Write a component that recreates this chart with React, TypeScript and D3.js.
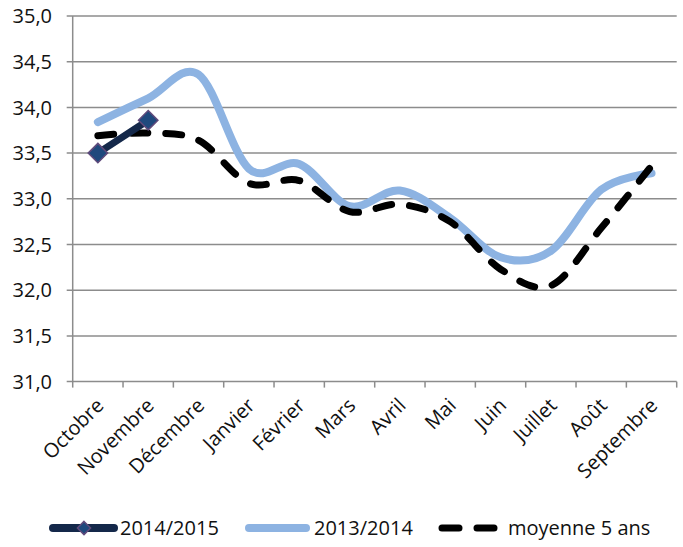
import React, { useEffect, useRef } from "react";
import * as d3 from "d3";

// categories (mois de campagne)
const months = [
  "Octobre", "Novembre", "Décembre", "Janvier", "Février", "Mars",
  "Avril", "Mai", "Juin", "Juillet", "Août", "Septembre",
];

// series values
const serie2014: number[] = [33.5, 33.86];
const serie2013: number[] = [33.84, 34.1, 34.36, 33.33, 33.38, 32.92, 33.09, 32.79, 32.36, 32.43, 33.1, 33.28];
const moyenne5: number[] = [33.69, 33.72, 33.64, 33.17, 33.2, 32.86, 32.94, 32.75, 32.23, 32.05, 32.68, 33.36];

const yTicks = [31, 31.5, 32, 32.5, 33, 33.5, 34, 34.5, 35];

const legendLabels = ["2014/2015", "2013/2014", "moyenne 5 ans"];

const W = 683;
const H = 547;
const FONT = "'Open Sans', 'Noto Sans', sans-serif";

const App: React.FC = () => {
  const svgRef = useRef<SVGSVGElement>(null);

  useEffect(() => {
    if (!svgRef.current) return;
    const svg = d3.select(svgRef.current);
    svg.selectAll("*").remove();

    const left = 72.7, right = 676.7, top = 16, bottom = 381.6;

    const x = d3.scaleBand<string>().domain(months).range([left, right]);
    const y = d3.scaleLinear().domain([31, 35]).range([bottom, top]);
    const cx = (i: number) => (x(months[i]) as number) + x.bandwidth() / 2;

    // gridlines
    svg.append("g")
      .selectAll("line")
      .data(yTicks)
      .enter().append("line")
      .attr("x1", left - 6)
      .attr("x2", right)
      .attr("y1", d => y(d))
      .attr("y2", d => y(d))
      .attr("stroke", "#8c8c8c")
      .attr("stroke-width", 1.5);

    // y axis line
    svg.append("line")
      .attr("x1", left).attr("x2", left)
      .attr("y1", top).attr("y2", bottom)
      .attr("stroke", "#8c8c8c").attr("stroke-width", 1.5);

    // x ticks
    svg.append("g")
      .selectAll("line")
      .data(d3.range(months.length + 1))
      .enter().append("line")
      .attr("x1", i => left + i * x.step())
      .attr("x2", i => left + i * x.step())
      .attr("y1", bottom)
      .attr("y2", bottom + 6)
      .attr("stroke", "#8c8c8c").attr("stroke-width", 1.5);

    // y labels
    svg.append("g")
      .selectAll("text")
      .data(yTicks)
      .enter().append("text")
      .attr("x", 52)
      .attr("y", d => y(d))
      .attr("dy", "0.36em")
      .attr("text-anchor", "end")
      .attr("font-family", FONT)
      .attr("font-size", 20)
      .attr("fill", "#111")
      .text(d => d3.format(".1f")(d).replace(".", ","));

    // x labels
    svg.append("g")
      .selectAll("text")
      .data(months)
      .enter().append("text")
      .attr("transform", (_d, i) => `translate(${cx(i) + 2},${bottom + 20}) rotate(-45)`)
      .attr("dy", "0.36em")
      .attr("text-anchor", "end")
      .attr("font-family", FONT)
      .attr("font-size", 20)
      .attr("fill", "#111")
      .text(d => d);

    const line = d3.line<number>()
      .x((_d, i) => cx(i))
      .y(d => y(d))
      .curve(d3.curveCatmullRom.alpha(0));

    // 2013/2014
    svg.append("path")
      .attr("d", line(serie2013))
      .attr("fill", "none")
      .attr("stroke", "#8db3e2")
      .attr("stroke-width", 8)
      .attr("stroke-linecap", "round");

    // moyenne 5 ans
    svg.append("path")
      .attr("d", line(moyenne5))
      .attr("fill", "none")
      .attr("stroke", "#000")
      .attr("stroke-width", 7)
      .attr("stroke-dasharray", "16 18")
      .attr("stroke-linecap", "round");

    // 2014/2015
    svg.append("path")
      .attr("d", line(serie2014))
      .attr("fill", "none")
      .attr("stroke", "#14284a")
      .attr("stroke-width", 7)
      .attr("stroke-linecap", "round");

    const diamond = d3.symbol().type(d3.symbolDiamond2).size(240);
    svg.append("g")
      .selectAll("path")
      .data(serie2014)
      .enter().append("path")
      .attr("d", diamond() as string)
      .attr("transform", (d, i) => `translate(${cx(i)},${y(d)})`)
      .attr("fill", "#1f497d")
      .attr("stroke", "#604a7b")
      .attr("stroke-width", 1.5);

    // legend
    const ly = 528;
    const lg = svg.append("g");
    lg.append("line").attr("x1", 53).attr("x2", 114).attr("y1", ly).attr("y2", ly)
      .attr("stroke", "#14284a").attr("stroke-width", 8).attr("stroke-linecap", "round");
    lg.append("path").attr("d", d3.symbol().type(d3.symbolDiamond2).size(110)() as string)
      .attr("transform", `translate(84,${ly})`)
      .attr("fill", "#1f497d").attr("stroke", "#604a7b").attr("stroke-width", 1.5);
    lg.append("line").attr("x1", 249).attr("x2", 306).attr("y1", ly).attr("y2", ly)
      .attr("stroke", "#8db3e2").attr("stroke-width", 8).attr("stroke-linecap", "round");
    lg.append("line").attr("x1", 442).attr("x2", 494).attr("y1", ly).attr("y2", ly)
      .attr("stroke", "#000").attr("stroke-width", 7)
      .attr("stroke-dasharray", "17 18").attr("stroke-linecap", "round");

    const lx = [120, 314, 508];
    lg.selectAll("text")
      .data(legendLabels)
      .enter().append("text")
      .attr("x", (_d, i) => lx[i])
      .attr("y", ly)
      .attr("dy", "0.36em")
      .attr("font-family", FONT)
      .attr("font-size", 20)
      .attr("fill", "#111")
      .text(d => d);
  }, []);

  return (
    <svg
      ref={svgRef}
      width={W}
      height={H}
      style={{ position: "absolute", left: 0, top: 0, background: "#fff" }}
    />
  );
};

export default App;
